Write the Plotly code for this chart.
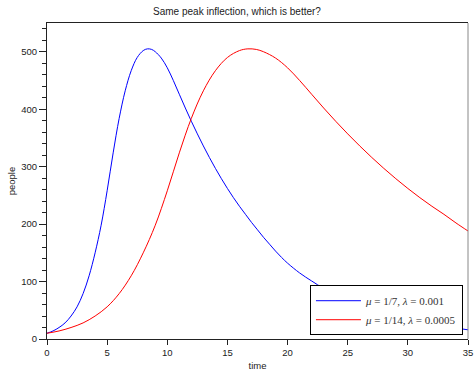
import plotly.graph_objects as go

# mu = 1/7, lambda = 0.001
t_blue = [0, 0.5, 1, 1.5, 2, 2.5, 3, 3.5, 4, 4.5, 5, 5.5, 6, 6.5, 7, 7.5, 8, 8.35, 8.7, 9, 9.5,
          10, 10.5, 11, 11.5, 12, 12.5, 13, 13.5, 14, 14.5, 15, 15.5, 16, 16.5, 17, 17.5, 18, 18.5,
          19, 19.5, 20, 21, 22, 23, 24, 25, 26, 27, 28, 29, 30, 31, 32, 33, 34, 35]
blue = [10, 14, 20, 28, 40, 56, 79, 110, 150, 198, 258, 324, 384, 432, 467, 490, 502, 505, 504, 500, 489,
        472, 450, 426, 402, 379, 357, 336, 316, 297, 279, 262, 246, 231, 217, 203, 190, 177, 165,
        153, 142, 132, 115, 101, 88, 77, 68, 60, 52, 45, 39, 34, 29, 25, 22, 19, 16]

# mu = 1/14, lambda = 0.0005
t_red = [0, 1, 2, 3, 4, 5, 6, 7, 8, 9, 10, 11, 12, 13, 14, 15, 16, 16.7, 17.4, 18, 19, 20,
         21, 22, 23, 24, 25, 26, 27, 28, 29, 30, 31, 32, 33, 34, 35]
red = [10, 14, 20, 28, 40, 56, 79, 110, 150, 198, 258, 324, 384, 432, 467, 490, 502, 505, 504, 500, 489, 472,
       450, 426, 402, 379, 357, 336, 316, 297, 279, 262, 246, 231, 217, 202, 188]

labels = ["<i>μ</i> = 1/7, <i>λ</i> = 0.001", "<i>μ</i> = 1/14, <i>λ</i> = 0.0005"]
title = "Same peak inflection, which is better?"
x_ticks = [0, 5, 10, 15, 20, 25, 30, 35]
y_ticks = [0, 100, 200, 300, 400, 500]

fig = go.Figure()
fig.add_trace(go.Scatter(x=t_blue, y=blue, mode="lines", name=labels[0],
                         line=dict(color="#0000ff", width=1, shape="spline", smoothing=1)))
fig.add_trace(go.Scatter(x=t_red, y=red, mode="lines", name=labels[1],
                         line=dict(color="#ff0000", width=1, shape="spline", smoothing=1)))

axfont = dict(family="Liberation Sans, Arial, sans-serif", size=9.5, color="#222")
fig.update_layout(
    width=474, height=371,
    margin=dict(l=47, r=6, t=23, b=32),
    paper_bgcolor="white", plot_bgcolor="white",
    title=dict(text=title, x=0.5, xanchor="center", y=1 - 11 / 371, yanchor="middle",
               font=dict(family="Liberation Sans, Arial, sans-serif", size=10, color="#222")),
    showlegend=True,
    legend=dict(x=0.988, y=0.012, xanchor="right", yanchor="bottom",
                bgcolor="white", bordercolor="black", borderwidth=1,
                font=dict(family="Liberation Serif, DejaVu Serif, serif", size=11, color="#333"),
                tracegroupgap=0, itemwidth=45),
    xaxis=dict(range=[0, 35], tickvals=x_ticks, showgrid=False, automargin=False,
               zeroline=False, showline=True, linecolor="#222", linewidth=1, mirror=True,
               ticks="outside", ticklen=5, tickcolor="#222", tickfont=axfont,
               title=dict(text="time", font=axfont, standoff=4)),
    yaxis=dict(range=[0, 550], tickvals=y_ticks, showgrid=False, automargin=False,
               zeroline=False, showline=True, linecolor="#222", linewidth=1, mirror=False,
               ticks="outside", ticklen=7, tickcolor="#222", tickfont=axfont,
               minor=dict(dtick=20, ticks="outside", ticklen=4, tickcolor="#222", showgrid=False),
               title=dict(text="people", font=axfont, standoff=3)),
)
fig.add_shape(type="line", xref="paper", yref="paper", x0=1, x1=1, y0=0, y1=1,
              line=dict(color="#888", width=1))
fig.write_html("out.html")
